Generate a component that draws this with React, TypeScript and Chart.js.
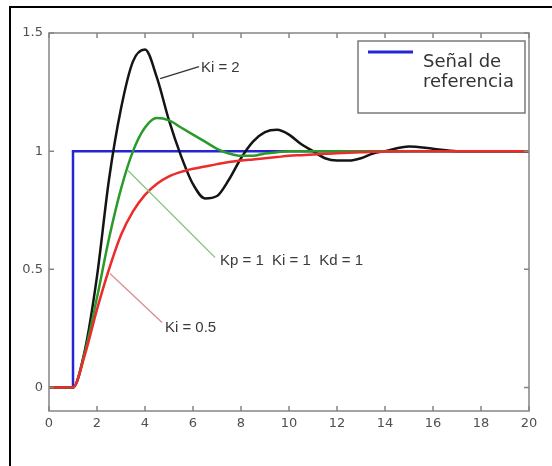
import React, { useEffect, useRef } from "react";
import { Chart, registerables } from "chart.js";

Chart.register(...registerables);

// ---- data ----
const TIME = [0, 1, 1.5, 2, 2.5, 3, 3.5, 4, 4.5, 5, 5.5, 6, 6.5, 7, 7.5, 8, 8.5, 9, 9.5, 10, 10.5, 11, 11.5, 12, 12.5, 13, 13.5, 14, 15, 16, 17, 18, 19, 20];
const KI2 = [0, 0, 0.16, 0.47, 0.88, 1.18, 1.38, 1.43, 1.31, 1.13, 0.98, 0.86, 0.8, 0.81, 0.88, 0.97, 1.04, 1.08, 1.09, 1.07, 1.03, 1.0, 0.97, 0.96, 0.96, 0.97, 0.99, 1.0, 1.02, 1.01, 1.0, 1.0, 1.0, 1.0];
const PID = [0, 0, 0.15, 0.38, 0.63, 0.84, 1.0, 1.1, 1.14, 1.13, 1.1, 1.07, 1.04, 1.01, 0.99, 0.98, 0.98, 0.99, 0.995, 1, 1, 1, 1, 1, 1, 1, 1, 1, 1, 1, 1, 1, 1, 1];
const KI05 = [0, 0, 0.14, 0.33, 0.5, 0.645, 0.745, 0.815, 0.862, 0.893, 0.912, 0.925, 0.935, 0.945, 0.954, 0.96, 0.965, 0.97, 0.975, 0.98, 0.983, 0.986, 0.989, 0.991, 0.993, 0.995, 0.997, 0.998, 1, 1, 1, 1, 1, 1];
const REF_TIME = [0, 1, 1, 20];
const REF = [0, 0, 1, 1];
const X_TICKS = [0, 2, 4, 6, 8, 10, 12, 14, 16, 18, 20];
const Y_TICKS = [0, 0.5, 1, 1.5];
const LEGEND_LINES = ["Señal de", "referencia"];
const ANNOTATION_TEXTS = ["Ki = 2", "Kp = 1  Ki = 1  Kd = 1", "Ki = 0.5"];
// label anchor [x, y] and pointer [x0, y0, x1, y1] in data units
const ANNOTATION_ANCHORS = [[6.33, 1.354], [7.125, 0.537], [4.83, 0.25]];
const ANNOTATION_POINTERS = [[4.63, 1.307, 6.25, 1.358], [3.29, 0.918, 6.92, 0.55], [2.54, 0.482, 4.71, 0.275]];

const BLUE = "#2525d8";
const BLACK = "#141414";
const GREEN = "#2a9a2a";
const RED = "#ec2b2b";
const POINTER_COLORS = ["#333333", "#86c886", "#d99090"];

const toPts = (xs: number[], ys: number[]) => xs.map((x, i) => ({ x, y: ys[i] }));

const decorPlugin = {
  id: "decor",
  afterDatasetsDraw(chart: any) {
    const { ctx, chartArea: a, scales } = chart;
    const xs = scales.x;
    const ys = scales.y;
    ctx.save();
    // plot frame
    ctx.strokeStyle = "#858585";
    ctx.lineWidth = 1.5;
    ctx.strokeRect(a.left, a.top, a.right - a.left, a.bottom - a.top);
    // inward ticks on all sides
    const L = 5;
    ctx.beginPath();
    X_TICKS.forEach((v) => {
      const p = xs.getPixelForValue(v);
      ctx.moveTo(p, a.bottom);
      ctx.lineTo(p, a.bottom - L);
      ctx.moveTo(p, a.top);
      ctx.lineTo(p, a.top + L);
    });
    Y_TICKS.forEach((v) => {
      const p = ys.getPixelForValue(v);
      ctx.moveTo(a.left, p);
      ctx.lineTo(a.left + L, p);
      ctx.moveTo(a.right, p);
      ctx.lineTo(a.right - L, p);
    });
    ctx.stroke();

    // annotations
    ctx.font = "15px 'Liberation Sans', Arial, sans-serif";
    ctx.textBaseline = "middle";
    ctx.textAlign = "left";
    ANNOTATION_TEXTS.forEach((t, i) => {
      const [x0, y0, x1, y1] = ANNOTATION_POINTERS[i];
      ctx.strokeStyle = POINTER_COLORS[i];
      ctx.lineWidth = 1.3;
      ctx.beginPath();
      ctx.moveTo(xs.getPixelForValue(x0), ys.getPixelForValue(y0));
      ctx.lineTo(xs.getPixelForValue(x1), ys.getPixelForValue(y1));
      ctx.stroke();
      const [tx, ty] = ANNOTATION_ANCHORS[i];
      ctx.fillStyle = "#3a3a3a";
      ctx.fillText(t, xs.getPixelForValue(tx), ys.getPixelForValue(ty));
    });

    // legend box
    const bw = 167;
    const bh = 72;
    const bx = a.right - 4 - bw;
    const by = a.top + 8;
    ctx.fillStyle = "#ffffff";
    ctx.fillRect(bx, by, bw, bh);
    ctx.strokeStyle = "#7a7a7a";
    ctx.lineWidth = 1.5;
    ctx.strokeRect(bx, by, bw, bh);
    ctx.strokeStyle = BLUE;
    ctx.lineWidth = 3;
    ctx.beginPath();
    ctx.moveTo(bx + 10, by + 11);
    ctx.lineTo(bx + 55, by + 11);
    ctx.stroke();
    ctx.fillStyle = "#333333";
    ctx.font = "18px 'DejaVu Sans', sans-serif";
    LEGEND_LINES.forEach((line, i) => {
      ctx.fillText(line, bx + 65, by + 21 + i * 20);
    });
    ctx.restore();
  },
};

export default function App() {
  const ref = useRef<HTMLCanvasElement | null>(null);
  useEffect(() => {
    if (!ref.current) return;
    const tickFont = { family: "'DejaVu Sans', sans-serif", size: 13 };
    const chart = new Chart(ref.current, {
      type: "line",
      data: {
        datasets: [
          { label: "Ki = 0.5", data: toPts(TIME, KI05), borderColor: RED, borderWidth: 2.5, pointRadius: 0, cubicInterpolationMode: "monotone" },
          { label: "Kp = 1 Ki = 1 Kd = 1", data: toPts(TIME, PID), borderColor: GREEN, borderWidth: 2.5, pointRadius: 0, cubicInterpolationMode: "monotone" },
          { label: "Ki = 2", data: toPts(TIME, KI2), borderColor: BLACK, borderWidth: 2.5, pointRadius: 0, cubicInterpolationMode: "monotone" },
          { label: "Señal de referencia", data: toPts(REF_TIME, REF), borderColor: BLUE, borderWidth: 2.5, pointRadius: 0, tension: 0 },
        ],
      },
      options: {
        animation: false,
        responsive: false,
        maintainAspectRatio: false,
        layout: { padding: { top: 33, right: 23, left: 0, bottom: 0 } },
        plugins: { legend: { display: false }, tooltip: { enabled: false } },
        scales: {
          x: {
            type: "linear",
            min: 0,
            max: 20,
            grid: { display: false, drawTicks: false },
            border: { display: false },
            ticks: { color: "#505050", font: tickFont, padding: 5, stepSize: 2 },
            afterBuildTicks: (s: any) => {
              s.ticks = X_TICKS.map((v) => ({ value: v }));
            },
            afterFit: (s: any) => {
              s.height = 55;
            },
          },
          y: {
            type: "linear",
            min: -0.1,
            max: 1.5,
            grid: { display: false, drawTicks: false },
            border: { display: false },
            ticks: { color: "#505050", font: tickFont, padding: 6, callback: (v: any) => String(v) },
            afterBuildTicks: (s: any) => {
              s.ticks = Y_TICKS.map((v) => ({ value: v }));
            },
            afterFit: (s: any) => {
              s.width = 49;
            },
          },
        },
      },
      plugins: [decorPlugin],
    } as any);
    return () => chart.destroy();
  }, []);

  return (
    <div style={{ position: "fixed", left: 0, top: 0, width: 552, height: 466, overflow: "hidden", background: "#fff" }}>
      <div
        style={{
          position: "absolute",
          left: 9,
          top: 6,
          width: 700,
          height: 700,
          borderLeft: "2px solid #000",
          borderTop: "2px solid #000",
        }}
      />
      <canvas ref={ref} width={552} height={466} style={{ position: "absolute", left: 0, top: 0, width: 552, height: 466 }} />
    </div>
  );
}
